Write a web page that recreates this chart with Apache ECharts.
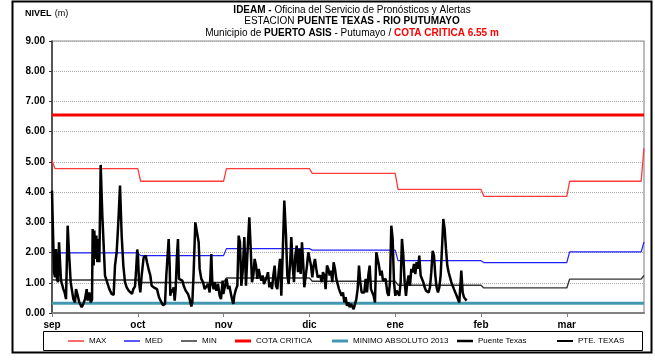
<!DOCTYPE html>
<html>
<head>
<meta charset="utf-8">
<script src="https://cdn.jsdelivr.net/npm/echarts@6/dist/echarts.min.js"></script>
<style>
  html, body { margin: 0; padding: 0; background: #fff; }
  #chart { width: 655px; height: 362px; }
</style>
</head>
<body>
<div id="chart"></div>
<script>
// Month labels along the x axis (each month spans 30 axis units)
const months = ['sep', 'oct', 'nov', 'dic', 'ene', 'feb', 'mar'];

// Monthly reference levels: [ago, sep, oct, nov, dic, ene, feb, mar, abr]
const maxLevels = [5.05, 4.78, 4.36, 4.78, 4.62, 4.09, 3.86, 4.36, 5.45];
const medLevels = [2.19, 1.99, 1.90, 2.13, 2.08, 1.73, 1.67, 2.02, 2.35];
const minLevels = [1.10, 1.09, 1.01, 1.16, 1.05, 0.92, 0.83, 1.12, 1.24];

// Fixed thresholds (m)
const cotaCritica = 6.55;
const minimoAbsoluto2013 = 0.32;

// Observed stage at Puente Texas: [day since 1 sep, level m]
const puenteTexas = [
  [0,4.05],[0.35,2.67],[0.7,1.35],[1.05,1.18],[1.4,2.12],[1.75,1.13],[2.1,1.02],[2.45,2.34],[2.8,2.4],[3.15,1.07],
  [3.5,0.96],[3.96,0.79],[4.43,0.68],[4.9,0.46],[5.13,0.41],[5.48,2.89],[5.94,2.01],[6.53,1.02],[7.0,1.04],[7.46,0.46],
  [8.04,0.35],[8.39,0.79],[8.86,0.63],[9.56,0.35],[10.37,0.19],[10.96,0.3],[11.54,0.46],[12.12,0.79],[12.47,0.41],[13.05,0.68],
  [13.52,0.35],[13.99,0.44],[14.22,2.78],[14.57,1.57],[14.8,2.73],[15.15,1.79],[15.5,2.56],[15.85,1.68],[16.2,2.45],[16.55,1.68],
  [17.02,4.9],[17.6,3.22],[18.07,2.23],[18.53,1.24],[19.11,1.07],[20.05,0.79],[20.86,0.63],[21.56,0.6],[22.03,1.57],[22.61,2.01],
  [23.19,3.0],[23.78,4.22],[24.36,2.56],[24.94,1.57],[25.52,1.02],[26.11,0.85],[26.8,0.74],[27.39,0.68],[27.97,0.63],[28.44,0.79],
  [29.02,0.88],[29.37,1.35],[29.8,2.1],[30.07,1.9],[30.42,1.02],[30.88,0.68],[31.35,1.24],[32.05,1.84],[32.75,1.9],[33.22,1.68],
  [33.91,1.4],[34.38,1.24],[34.85,0.9],[35.55,0.85],[36.01,0.9],[36.71,0.79],[37.41,0.52],[38.11,0.38],[38.81,0.26],[39.51,0.3],
  [39.97,1.24],[40.79,2.45],[41.14,1.57],[41.37,0.57],[41.72,0.79],[42.07,0.68],[42.54,0.85],[42.89,0.41],[43.24,0.79],[43.7,1.9],
  [44.05,2.45],[44.4,1.13],[44.87,1.18],[45.57,1.07],[46.04,0.9],[46.74,0.74],[47.55,0.63],[48.13,0.46],[48.72,0.22],[49.07,0.35],
  [49.53,1.35],[50.11,3.0],[50.7,3.0],[51.28,2.34],[51.63,1.46],[52.21,1.13],[52.8,1.02],[53.38,0.79],[53.96,0.85],[54.54,0.96],
  [55.13,0.68],[55.71,1.95],[56.06,0.96],[56.53,0.79],[56.87,1.02],[57.46,0.74],[58.04,0.96],[58.62,0.57],[59.09,0.46],[59.67,1.07],
  [59.9,0.63],[60.25,0.79],[60.6,0.85],[61.07,1.13],[61.54,0.79],[62.0,0.9],[62.47,0.68],[62.93,0.46],[63.4,0.3],[63.75,0.57],
  [64.33,0.79],[64.8,0.9],[65.27,2.56],[65.73,2.34],[66.2,0.9],[66.66,1.35],[67.25,2.51],[67.83,0.9],[68.3,1.9],[68.99,3.17],
  [69.46,2.17],[69.93,1.02],[70.39,1.24],[70.86,1.79],[71.33,1.57],[71.79,1.13],[72.26,1.46],[72.72,1.24],[73.19,1.07],[73.66,1.24],
  [74.12,0.96],[74.59,1.02],[75.06,1.18],[75.52,1.35],[75.99,0.85],[76.45,1.02],[76.92,0.79],[77.39,1.24],[77.85,1.57],[78.32,0.9],
  [78.79,0.79],[79.25,1.35],[79.72,1.79],[80.18,0.57],[80.65,1.9],[81.23,3.72],[81.82,2.56],[82.28,1.24],[82.75,0.96],[83.21,1.57],
  [83.68,2.51],[84.15,1.57],[84.61,1.02],[85.08,1.9],[85.55,2.23],[86.01,1.35],[86.48,2.12],[86.94,1.29],[87.41,2.34],[87.88,1.57],
  [88.22,0.85],[88.69,0.79],[89.16,1.57],[89.62,2.01],[90.09,1.79],[90.56,1.57],[91.02,1.18],[91.49,1.57],[91.95,1.79],[92.42,1.46],
  [92.89,1.18],[93.35,1.13],[93.82,1.24],[94.29,1.02],[94.75,1.35],[95.22,1.24],[95.68,0.79],[96.15,1.57],[96.62,1.46],[97.08,1.24],
  [97.55,1.4],[98.01,1.02],[98.48,1.68],[98.95,1.46],[99.41,1.13],[99.88,0.96],[100.35,0.79],[100.81,0.68],[101.28,0.57],[101.74,0.68],
  [102.21,0.35],[102.68,0.52],[103.14,0.24],[103.61,0.35],[104.08,0.19],[104.54,0.3],[105.01,0.35],[105.47,0.13],[105.94,0.19],[106.41,0.46],
  [106.87,0.79],[107.34,1.57],[107.8,1.02],[108.27,0.68],[108.74,0.74],[109.2,0.68],[109.67,1.13],[110.14,0.68],[110.6,1.24],[111.07,1.57],
  [111.53,0.79],[112.0,0.85],[112.47,0.57],[112.93,0.35],[113.4,2.01],[113.87,2.06],[114.33,1.57],[114.8,1.24],[115.27,1.4],[115.73,1.07],
  [116.2,1.02],[116.66,1.13],[117.24,0.68],[117.71,0.57],[118.18,1.02],[118.64,2.89],[119.11,2.45],[119.58,1.02],[120.04,0.57],[120.51,0.74],
  [120.97,0.79],[121.44,0.57],[121.91,1.02],[122.37,2.45],[122.84,1.9],[123.31,1.02],[123.77,0.57],[124.24,1.02],[124.7,1.24],[125.17,0.9],
  [125.64,1.46],[126.1,1.35],[126.57,1.62],[127.04,1.29],[127.5,1.68],[127.97,1.46],[128.43,1.9],[128.9,1.24],[129.37,1.29],[129.83,1.02],
  [130.3,0.85],[130.76,0.74],[131.23,0.79],[131.7,0.68],[132.16,0.85],[132.63,1.35],[133.1,2.06],[133.56,1.9],[134.03,1.24],[134.49,0.85],
  [134.96,0.68],[135.43,0.85],[135.89,1.24],[136.36,2.12],[136.83,3.11],[137.29,2.78],[137.76,2.12],[138.22,1.57],[138.69,1.35],[139.16,1.29],
  [139.62,1.02],[140.09,0.9],[140.55,0.79],[141.02,0.68],[141.49,0.57],[141.95,0.52],[142.42,0.35],[142.77,0.35],[143.12,1.4],[143.59,0.68],
  [144.05,0.52],[144.52,0.46],[144.98,0.41]
];

const DAYS_PER_MONTH = 30;
const X_END = 207;
const FONT = "'Liberation Sans', Arial, sans-serif";

// Turn monthly levels into a stepped line across the axis
function monthlySteps(levels) {
  const pts = [[0, levels[0]]];
  for (let m = 1; m <= months.length; m++) {
    const start = DAYS_PER_MONTH * (m - 1) + 1;
    const end = Math.min(DAYS_PER_MONTH * m, X_END - 1);
    pts.push([start, levels[m]], [end, levels[m]]);
  }
  pts.push([X_END, levels[levels.length - 1]]);
  return pts;
}
function flatLine(v) { return [[0, v], [X_END, v]]; }

const monthTicks = months.map((_, i) => i * DAYS_PER_MONTH);

const seriesDefs = [
  { name: 'MAX', data: monthlySteps(maxLevels), color: '#ff3a3a', width: 1.3 },
  { name: 'MED', data: monthlySteps(medLevels), color: '#2020ff', width: 1.2 },
  { name: 'MIN', data: monthlySteps(minLevels), color: '#333333', width: 1.4 },
  { name: 'COTA CRITICA', data: flatLine(cotaCritica), color: '#ff0000', width: 3 },
  { name: 'MINIMO ABSOLUTO 2013', data: flatLine(minimoAbsoluto2013), color: '#4298b0', width: 3 },
  { name: 'Puente Texas', data: puenteTexas, color: '#000000', width: 2.5 },
  { name: 'PTE. TEXAS', data: [], color: '#000000', width: 2 }
];

// Legend entries laid out individually along the bottom box
const legendTextStarts = [88, 144, 201, 255, 352, 477, 577];
const legends = seriesDefs.map((s, i) => ({
  data: [s.name],
  left: legendTextStarts[i] - 20,
  top: 337,
  orient: 'horizontal',
  icon: 'rect',
  itemWidth: 16,
  itemHeight: Math.max(1.5, s.width),
  itemGap: 0,
  padding: 0,
  selectedMode: false,
  textStyle: { fontFamily: FONT, fontSize: 8, color: '#000' }
}));

const chart = echarts.init(document.getElementById('chart'), null, { renderer: 'canvas' });

const richTitle = {
  n: { fontFamily: FONT, fontSize: 10, fill: '#000' },
  b: { fontFamily: FONT, fontSize: 10, fontWeight: 'bold', fill: '#000' },
  r: { fontFamily: FONT, fontSize: 10, fontWeight: 'bold', fill: '#ff0000' }
};
function titleLine(text, y) {
  return { type: 'text', x: 352, y: y, z: 10,
    style: { text: text, rich: richTitle, align: 'center', verticalAlign: 'middle' } };
}

chart.setOption({
  animation: false,
  backgroundColor: '#fff',
  grid: { left: 52, right: 11, top: 41, bottom: 49, show: true, borderColor: '#909090', borderWidth: 1.2 },
  legend: legends,
  xAxis: {
    type: 'value', min: 0, max: X_END, interval: DAYS_PER_MONTH,
    axisLine: { show: true, lineStyle: { color: '#808080', width: 2 } },
    axisTick: { show: true, length: 4, inside: false, customValues: monthTicks, lineStyle: { color: '#808080', width: 1 } },
    axisLabel: {
      customValues: monthTicks,
      formatter: v => months[Math.round(v / DAYS_PER_MONTH)] || '',
      fontFamily: FONT, fontSize: 10, fontWeight: 'bold', color: '#000', margin: 7
    },
    splitLine: { show: false }
  },
  yAxis: {
    type: 'value', min: 0, max: 9, interval: 1,
    axisLine: { show: true, lineStyle: { color: '#333', width: 1.5 } },
    axisTick: { show: true, length: 3, lineStyle: { color: '#333' } },
    axisLabel: { formatter: v => v.toFixed(2), fontFamily: FONT, fontSize: 10, fontWeight: 'bold', color: '#000', margin: 7 },
    splitLine: { show: true, lineStyle: { color: '#a8a8a8', type: [1, 1], width: 1 } }
  },
  series: seriesDefs.map(s => ({
    name: s.name, type: 'line', data: s.data, showSymbol: false, symbol: 'none',
    color: s.color, lineStyle: { color: s.color, width: s.width }, silent: true
  })),
  graphic: [
    { type: 'rect', shape: { x: 12.5, y: 1.5, width: 639, height: 351 }, z: -1,
      style: { fill: null, stroke: '#000', lineWidth: 2 } },
    { type: 'rect', shape: { x: 43.5, y: 331.5, width: 599, height: 19 }, z: -1,
      style: { fill: null, stroke: '#000', lineWidth: 1 } },
    { type: 'text', x: 25, y: 14, z: 10,
      style: { text: '{b|NIVEL} {n|(m)}', verticalAlign: 'middle',
        rich: { b: { fontFamily: FONT, fontSize: 9, fontWeight: 'bold', fill: '#000' },
                n: { fontFamily: FONT, fontSize: 9, fill: '#000' } } } },
    titleLine('{b|IDEAM - }{n|Oficina del Servicio de Pronósticos y Alertas}', 10),
    titleLine('{n|ESTACION }{b|PUENTE TEXAS - RIO PUTUMAYO}', 21),
    titleLine('{n|Municipio de }{b|PUERTO ASIS}{n| - Putumayo / }{r|COTA CRITICA ' + cotaCritica.toFixed(2) + ' m}', 33)
  ]
});
</script>
</body>
</html>
